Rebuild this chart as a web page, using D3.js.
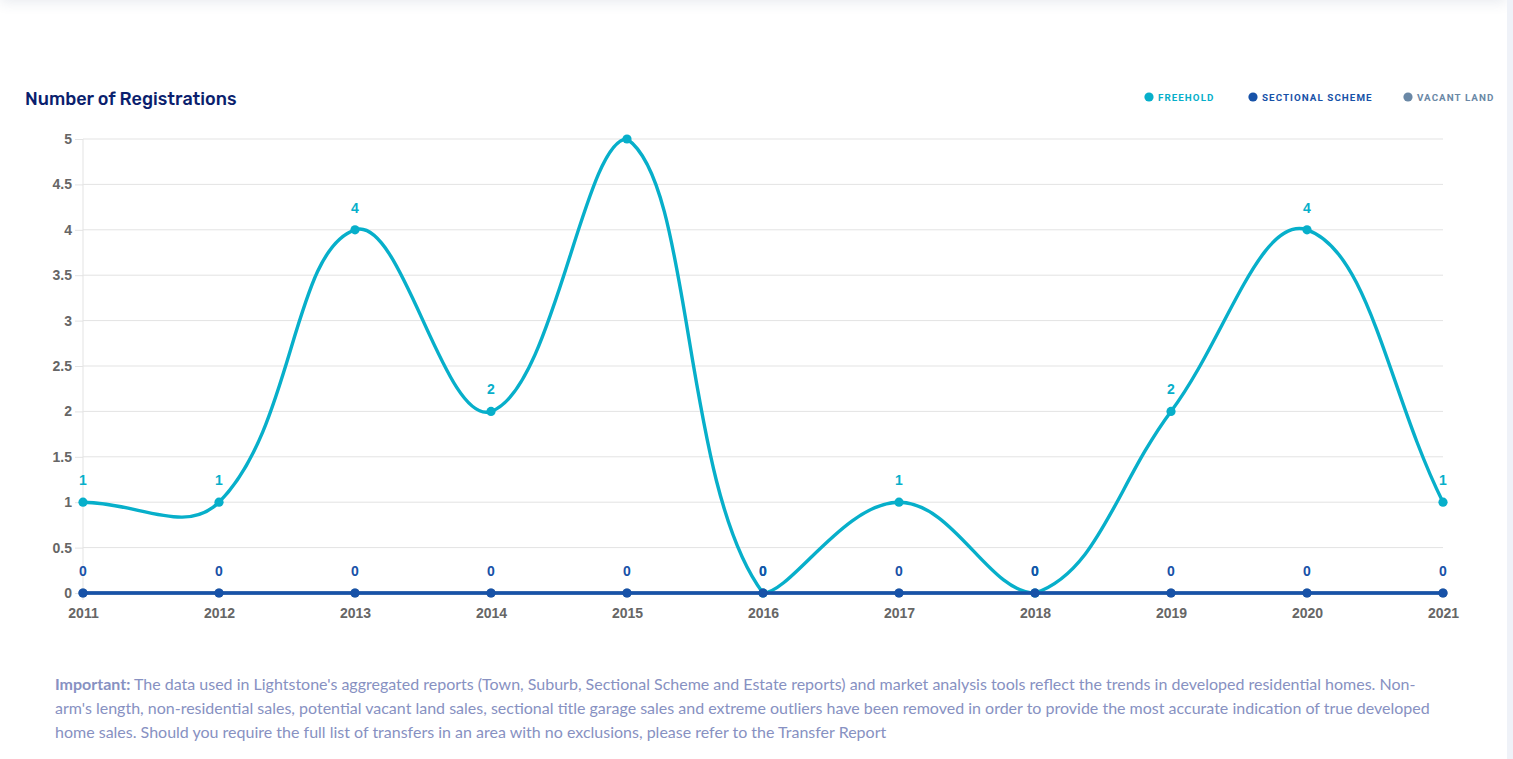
<!DOCTYPE html>
<html>
<head>
<meta charset="utf-8">
<script src="https://cdn.jsdelivr.net/npm/d3@7"></script>
<style>
  html, body { margin: 0; padding: 0; background: #fff; width: 1513px; height: 759px; overflow: hidden; }
  #topbar { position: absolute; left: 0; top: -20px; width: 1507px; height: 20px; background: #fff; box-shadow: 0 2px 14px rgba(60, 80, 120, 0.12); }
  #rightbar { position: absolute; left: 1507px; top: 0; width: 6px; height: 759px; background: #eff2f8; }
  svg { position: absolute; left: 0; top: 0; }
</style>
</head>
<body>
<div id="topbar"></div>
<div id="rightbar"></div>
<svg id="chart" width="1507" height="759"></svg>
<script>
// ---------- data ----------
const years = ["2011","2012","2013","2014","2015","2016","2017","2018","2019","2020","2021"];
const freehold = [1, 1, 4, 2, 5, 0, 1, 0, 2, 4, 1];
const sectionalScheme = [0, 0, 0, 0, 0, 0, 0, 0, 0, 0, 0];
const vacantLand = [0, 0, 0, 0, 0, 0, 0, 0, 0, 0, 0];
const yTicks = [0, 0.5, 1, 1.5, 2, 2.5, 3, 3.5, 4, 4.5, 5];
const seriesNames = ["FREEHOLD", "SECTIONAL SCHEME", "VACANT LAND"];
const seriesColors = ["#07afca", "#1752a8", "#6a88a6"];
const footerLines = [
  ["Important:", " The data used in Lightstone's aggregated reports (Town, Suburb, Sectional Scheme and Estate reports) and market analysis tools reflect the trends in developed residential homes. Non-"],
  ["", "arm's length, non-residential sales, potential vacant land sales, sectional title garage sales and extreme outliers have been removed in order to provide the most accurate indication of true developed"],
  ["", "home sales. Should you require the full list of transfers in an area with no exclusions, please refer to the Transfer Report"]
];

// ---------- layout ----------
const area = { left: 83, right: 1443, top: 139, bottom: 593 };
const svg = d3.select("#chart");

const x = d3.scalePoint().domain(years).range([area.left, area.right]);
const y = d3.scaleLinear().domain([0, 5]).range([area.bottom, area.top]);

// title
svg.append("text")
  .attr("x", 25).attr("y", 105)
  .attr("font-family", "Rubik, Roboto, sans-serif")
  .attr("font-weight", 500)
  .attr("font-size", 18)
  .attr("fill", "#0b1f6e")
  .text("Number of Registrations");

// legend
const legendX = [1149, 1253, 1408];
const legend = svg.append("g");
seriesNames.forEach((name, i) => {
  legend.append("circle").attr("cx", legendX[i]).attr("cy", 97).attr("r", 4.6).attr("fill", seriesColors[i]);
  legend.append("text")
    .attr("x", legendX[i] + 9).attr("y", 100.5)
    .attr("font-family", "Roboto, sans-serif")
    .attr("font-weight", 700)
    .attr("font-size", 9.8)
    .attr("letter-spacing", "1.05px")
    .attr("fill", seriesColors[i])
    .text(name);
});

// y grid + ticks
const yAxis = d3.axisLeft(y).tickValues(yTicks).tickSize(8).tickPadding(3).tickFormat(d => String(d));
const gy = svg.append("g").attr("transform", `translate(${area.left},0)`).call(yAxis);
gy.select(".domain").remove();
gy.selectAll(".tick line").attr("stroke", "#e3e3e3");
gy.selectAll(".tick text")
  .attr("font-family", "'Liberation Sans', Arial, sans-serif")
  .attr("font-weight", 700).attr("font-size", 14).attr("fill", "#666");
const grid = svg.append("g");
grid.selectAll("line").data(yTicks).join("line")
  .attr("x1", area.left).attr("x2", area.right)
  .attr("y1", d => y(d)).attr("y2", d => y(d))
  .attr("stroke", "#e3e3e3").attr("stroke-width", 1);
// left border line
svg.append("line")
  .attr("x1", area.left).attr("x2", area.left)
  .attr("y1", area.top).attr("y2", area.bottom + 7)
  .attr("stroke", "#e3e3e3");

// x axis labels
const xAxis = d3.axisBottom(x).tickSize(0).tickPadding(15);
const gx = svg.append("g").attr("transform", `translate(0,${area.bottom})`).call(xAxis);
gx.select(".domain").remove();
gx.selectAll(".tick text")
  .attr("font-family", "'Liberation Sans', Arial, sans-serif")
  .attr("font-weight", 700).attr("font-size", 14).attr("fill", "#666");

// Chart.js-style spline (tension 0.4, control points capped to chart area)
function splinePath(values) {
  const pts = values.map((v, i) => ({ x: x(years[i]), y: y(v) }));
  const t = 0.4;
  const cps = pts.map((cur, i) => {
    const prev = pts[i - 1] || cur, next = pts[i + 1] || cur;
    const d01 = Math.hypot(cur.x - prev.x, cur.y - prev.y);
    const d12 = Math.hypot(next.x - cur.x, next.y - cur.y);
    let s01 = d01 / (d01 + d12), s12 = d12 / (d01 + d12);
    if (isNaN(s01)) s01 = 0;
    if (isNaN(s12)) s12 = 0;
    const fa = t * s01, fb = t * s12;
    const cap = p => ({
      x: Math.max(area.left, Math.min(area.right, p.x)),
      y: Math.max(area.top, Math.min(area.bottom, p.y))
    });
    return {
      prev: cap({ x: cur.x - fa * (next.x - prev.x), y: cur.y - fa * (next.y - prev.y) }),
      next: cap({ x: cur.x + fb * (next.x - prev.x), y: cur.y + fb * (next.y - prev.y) })
    };
  });
  const p = d3.path();
  p.moveTo(pts[0].x, pts[0].y);
  for (let i = 1; i < pts.length; i++) {
    p.bezierCurveTo(cps[i - 1].next.x, cps[i - 1].next.y, cps[i].prev.x, cps[i].prev.y, pts[i].x, pts[i].y);
  }
  return p.toString();
}

const seriesData = [vacantLand, freehold, sectionalScheme];
const seriesCol = [seriesColors[2], seriesColors[0], seriesColors[1]];
seriesData.forEach((vals, si) => {
  const g = svg.append("g");
  g.append("path")
    .attr("d", splinePath(vals))
    .attr("fill", "none")
    .attr("stroke", seriesCol[si])
    .attr("stroke-width", 3.4)
    .attr("stroke-linejoin", "round");
  g.selectAll("circle").data(vals).join("circle")
    .attr("cx", (d, i) => x(years[i]))
    .attr("cy", d => y(d))
    .attr("r", 4.6)
    .attr("fill", seriesCol[si]);
});
// data labels (freehold and sectional scheme), drawn above
[[freehold, seriesColors[0]], [sectionalScheme, seriesColors[1]]].forEach(([vals, col]) => {
  const g = svg.append("g");
  g.selectAll("text").data(vals.map((v, i) => ({ v, i })).filter(d => y(d.v) - 17 > area.top))
    .join("text")
    .attr("x", d => x(years[d.i]))
    .attr("y", d => y(d.v) - 17)
    .attr("text-anchor", "middle")
    .attr("font-family", "'Liberation Sans', Arial, sans-serif")
    .attr("font-weight", 700)
    .attr("font-size", 14)
    .attr("fill", col)
    .text(d => d.v);
});

// footer
const foot = svg.append("g");
footerLines.forEach((ln, i) => {
  const tx = foot.append("text")
    .attr("x", 55).attr("y", 690 + i * 24)
    .attr("font-family", "Lato, 'Source Sans Pro', sans-serif")
    .attr("font-size", 16)
    .attr("fill", "#8791c2");
  if (ln[0]) tx.append("tspan").attr("font-weight", 700).text(ln[0]);
  tx.append("tspan").text(ln[1]);
});
</script>
</body>
</html>
